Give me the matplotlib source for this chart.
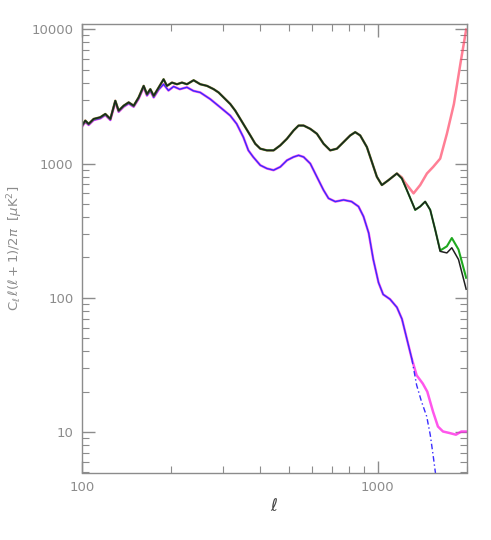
import matplotlib
matplotlib.use("Agg")
import matplotlib.pyplot as plt
from matplotlib.ticker import LogLocator, NullFormatter, FixedLocator, FixedFormatter

# upper spectrum (black), shared by green and red below ell ~1150
ell_hi = [100, 102.6, 105.3, 109.5, 115.3, 119.9, 124.7, 129.6, 133.0, 138.3,
          143.8, 149.5, 155.4, 161.6, 165.8, 170.2, 174.7, 181.6, 188.7, 193.7,
          201.4, 209.4, 217.7, 226.3, 238.4, 251.0, 264.5, 278.5, 289.5, 301.0,
          317.1, 329.6, 342.8, 356.4, 370.6, 385.1, 400.5, 421.7, 444.1, 467.8,
          492.7, 519.0, 539.5, 561.0, 590.9, 622.3, 655.4, 690.2, 727.0, 765.6,
          806.3, 838.3, 871.5, 917.9, 954.4, 992.2, 1031.6, 1086.5, 1159.5]
cl_hi = [1920, 2090, 1975, 2150, 2213, 2342, 2150, 2938, 2478, 2698,
         2856, 2698, 3110, 3792, 3290, 3584, 3198, 3686, 4247, 3792,
         4012, 3900, 4012, 3900, 4175, 3900, 3792, 3584, 3386, 3110,
         2776, 2478, 2150, 1866, 1620, 1405, 1291, 1254, 1254, 1366,
         1530, 1764, 1920, 1920, 1814, 1667, 1405, 1254, 1291, 1446,
         1620, 1714, 1620, 1328, 1029, 797, 692, 753, 844]

# tails beyond ell ~1160
ell_black_tail = [1205, 1253, 1337, 1390, 1445, 1503, 1562, 1624, 1711, 1778, 1873, 1988]
cl_black_tail = [775, 635, 452, 479, 521, 452, 322, 222, 216, 236, 193, 116]
ell_green_tail = [1205, 1253, 1337, 1390, 1445, 1503, 1562, 1624, 1711, 1778, 1873, 1988]
cl_green_tail = [775, 635, 452, 479, 521, 452, 322, 225, 242, 279, 229, 141]
ell_red_tail = [1205, 1230, 1320, 1390, 1465, 1538, 1624, 1711, 1807, 1907, 1988]
cl_red_tail = [790, 732, 600, 692, 844, 945, 1089, 1667, 2776, 5800, 9943]

# lower spectrum (blue), shared by magenta below ell ~1300
ell_lo = [100, 102.6, 105.3, 109.5, 115.3, 119.9, 124.7, 129.6, 133.0, 138.3,
          143.8, 149.5, 155.4, 161.6, 165.8, 170.2, 174.7, 181.6, 188.7, 196,
          204, 214, 226.3, 238, 251, 271.3, 293.4, 317, 333.3, 351,
          365, 379, 400.5, 421.7, 444, 468, 493, 519, 539.5, 561,
          591, 622, 655, 681, 718, 766, 815, 860, 894, 931,
          965, 1005, 1042, 1099, 1160, 1206, 1253, 1302]
cl_lo = [1880, 2050, 1940, 2110, 2170, 2300, 2110, 2880, 2430, 2650,
         2800, 2650, 3040, 3700, 3210, 3480, 3110, 3560, 3900, 3500,
         3750, 3580, 3700, 3480, 3386, 3022, 2623, 2276, 1975, 1574,
         1254, 1120, 972, 919, 893, 945, 1058, 1120, 1152, 1120,
         1000, 797, 635, 551, 521, 536, 521, 479, 404, 304,
         193, 130, 106, 97.7, 84.9, 69.6, 49.5, 35.2]
ell_magenta_tail = [1352, 1418, 1469, 1536, 1596, 1660, 1747, 1836, 1914, 1988]
cl_magenta_tail = [26.5, 23.0, 20.0, 14.2, 11.0, 10.1, 9.84, 9.56, 10.1, 10.1]
ell_blue_tail = [1352, 1404, 1462, 1503, 1536, 1566]
cl_blue_tail = [22.4, 16.9, 13.1, 9.56, 6.8, 4.92]

grey = "#8c8c8c"

fig = plt.figure(figsize=(4.91, 5.40), dpi=100)
ax = fig.add_axes([0.167, 0.125, 0.784, 0.830])

ax.plot(ell_lo + ell_magenta_tail, cl_lo + cl_magenta_tail, color="#ff1ee6", lw=1.8, alpha=0.75)
ax.plot(ell_lo, cl_lo, color="#3a2cff", lw=1.0)
ax.plot([ell_lo[-1]] + ell_blue_tail, [cl_lo[-1]] + cl_blue_tail, color="#3a2cff", lw=1.0,
        ls=(0, (4, 2, 1, 2)))
ax.plot(ell_hi + ell_red_tail, cl_hi + cl_red_tail, color="#ff3a5c", lw=1.8, alpha=0.65)
ax.plot(ell_hi + ell_green_tail, cl_hi + cl_green_tail, color="#1fa81f", lw=1.5)
ax.plot(ell_hi + ell_black_tail, cl_hi + cl_black_tail, color="#202020", lw=1.1)

ax.set_xscale("log")
ax.set_yscale("log")
ax.set_xlim(100, 2000)
ax.set_ylim(5, 10900)

ax.xaxis.set_major_locator(FixedLocator([100, 1000]))
ax.xaxis.set_major_formatter(FixedFormatter(["100", "1000"]))
ax.xaxis.set_minor_locator(LogLocator(base=10, subs=range(2, 10)))
ax.xaxis.set_minor_formatter(NullFormatter())
ax.yaxis.set_major_locator(FixedLocator([10, 100, 1000, 10000]))
ax.yaxis.set_major_formatter(FixedFormatter(["10", "100", "1000", "10000"]))
ax.yaxis.set_minor_locator(LogLocator(base=10, subs=range(2, 10)))
ax.yaxis.set_minor_formatter(NullFormatter())

for s in ax.spines.values():
    s.set_color(grey)
    s.set_linewidth(1.0)
ax.tick_params(which="both", direction="in", top=True, right=True, color=grey,
               labelcolor=grey, labelsize=9.5, pad=6)
ax.tick_params(which="major", length=9, width=1.0)
ax.tick_params(which="minor", length=5, width=0.8)

ax.set_xlabel(r"$\ell$", color="#444444", fontsize=12, labelpad=2)
ax.set_ylabel(r"C$_\ell\,\ell(\ell+1)/2\pi$  [$\mu$K$^2$]", color=grey, fontsize=9.5)
ax.yaxis.set_label_coords(-0.148, 0.5)

fig.savefig("out.png", dpi=100)
